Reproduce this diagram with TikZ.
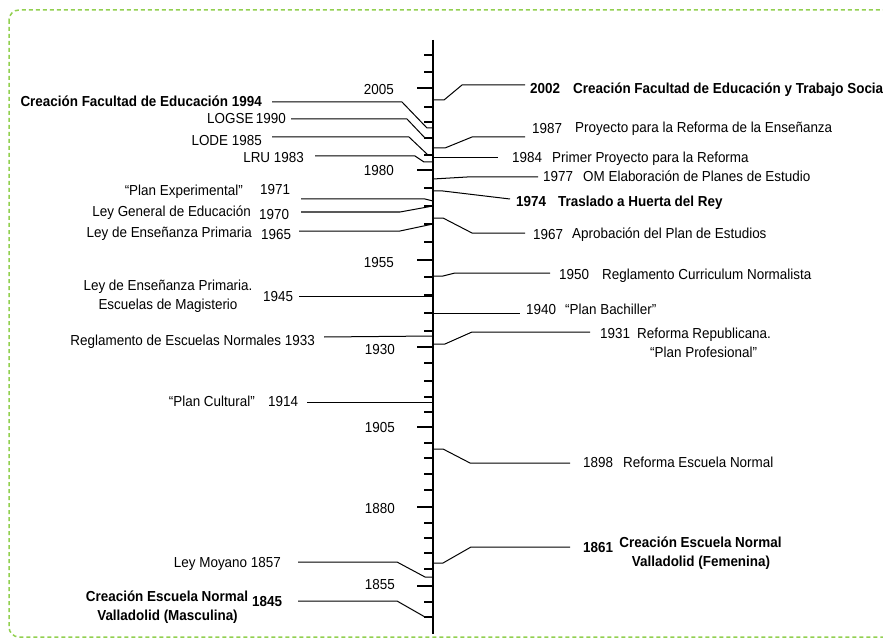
\documentclass[tikz,border=0pt]{standalone}
\usepackage{fontspec}
\setmainfont{Liberation Sans}[FakeStretch=0.927]
\definecolor{frame}{HTML}{92D050}
\tikzset{
  lbl/.style={inner sep=0pt, font=\fontsize{14.5}{19}\selectfont},
  blbl/.style={inner sep=0pt, font=\fontsize{14.5}{19}\selectfont\bfseries},
  conn/.style={line width=1pt, line join=miter},
  axisline/.style={line width=2pt},
  shorttick/.style={line width=2pt},
  longtick/.style={line width=2.4pt},
  framebox/.style={draw=frame, line width=1.5pt, dash pattern=on 4pt off 3pt, rounded corners=10pt}
}
\begin{document}
\begin{tikzpicture}[x=1pt,y=-1pt]
\useasboundingbox (0,0) rectangle (883,639);
\draw[framebox] (9,10) rectangle (900,637);

% axis
\coordinate (atop) at (433,40);
\coordinate (abot) at (433,634);
\draw[axisline] (atop) -- (abot);
\foreach \y in {55,72,107,122,138,155,188,206,224,242,277,295,313,331,363,381,397,412,443,458,474,490,523,538,553,569,602,617}
  \draw[shorttick] (424,\y) -- (433,\y);
\foreach \y in {88,170,260,347,427,507,586}
  \draw[longtick] (417,\y) -- (433,\y);

% axis labels
\node[lbl, anchor=base east] (y2005) at (394,95) {2005};
\node[lbl, anchor=base east] (y1980) at (394,176) {1980};
\node[lbl, anchor=base east] (y1955) at (394,267) {1955};
\node[lbl, anchor=base east] (y1930) at (395,354) {1930};
\node[lbl, anchor=base east] (y1905) at (395,432) {1905};
\node[lbl, anchor=base east] (y1880) at (395,513) {1880};
\node[lbl, anchor=base east] (y1855) at (395,589) {1855};

% ---------- left side ----------
\node[blbl, anchor=base east] (t1994) at (262,107) {Creación Facultad de Educación 1994};
\coordinate (s1994) at (272,102); \coordinate (e1994) at (433,128);
\draw[conn] (s1994) -- (402,102) -- (427,128) -- (e1994);

\node[lbl, anchor=base east] (t1990) at (286,124) {LOGSE\,1990};
\coordinate (s1990) at (291,119); \coordinate (e1990) at (433,138);
\draw[conn] (s1990) -- (407,119) -- (425,138) -- (e1990);

\node[lbl, anchor=base east] (t1985) at (262,146) {LODE 1985};
\coordinate (s1985) at (272,137); \coordinate (e1985) at (433,155);
\draw[conn] (s1985) -- (409,137) -- (428,155) -- (e1985);

\node[lbl, anchor=base east] (t1983) at (304,163) {LRU 1983};
\coordinate (s1983) at (315,156); \coordinate (e1983) at (433,162);
\draw[conn] (s1983) -- (415,156) -- (424,162) -- (e1983);

\node[lbl, anchor=base east] (t1971) at (243,196) {“Plan Experimental”};
\node[lbl, anchor=base west] (n1971) at (260,194) {1971};
\coordinate (s1971) at (301,199); \coordinate (e1971) at (433,201);
\draw[conn] (s1971) -- (425,199) -- (e1971);

\node[lbl, anchor=base east] (t1970) at (251,217) {Ley General de Educación};
\node[lbl, anchor=base west] (n1970) at (259,219) {1970};
\coordinate (s1970) at (301,212); \coordinate (e1970) at (433,206);
\draw[conn] (s1970) -- (400,212) -- (e1970);

\node[lbl, anchor=base east] (t1965) at (252,237) {Ley de Enseñanza Primaria};
\node[lbl, anchor=base west] (n1965) at (261,239) {1965};
\coordinate (s1965) at (299,231); \coordinate (e1965) at (433,224);
\draw[conn] (s1965) -- (400,231) -- (e1965);

\node[lbl, anchor=base] (t1945a) at (168,290) {Ley de Enseñanza Primaria.};
\node[lbl, anchor=base] (t1945b) at (168,309) {Escuelas de Magisterio};
\node[lbl, anchor=base west] (n1945) at (263,301) {1945};
\coordinate (s1945) at (299,296); \coordinate (e1945) at (433,296);
\draw[conn] (s1945) -- (e1945);

\node[lbl, anchor=base east] (t1933) at (315,345) {Reglamento de Escuelas Normales 1933};
\coordinate (s1933) at (324,337); \coordinate (e1933) at (433,336);
\draw[conn] (s1933) -- (e1933);

\node[lbl, anchor=base east] (t1914) at (255,406) {“Plan Cultural”};
\node[lbl, anchor=base west] (n1914) at (268,406) {1914};
\coordinate (s1914) at (307,402); \coordinate (e1914) at (433,402);
\draw[conn] (s1914) -- (e1914);

\node[lbl, anchor=base east] (t1857) at (281,567) {Ley Moyano 1857};
\coordinate (s1857) at (298,562); \coordinate (e1857) at (433,577);
\draw[conn] (s1857) -- (397,562) -- (425,577) -- (e1857);

\node[blbl, anchor=base] (t1845a) at (167,601) {Creación Escuela Normal};
\node[blbl, anchor=base] (t1845b) at (167.5,620) {Valladolid (Masculina)};
\node[blbl, anchor=base west] (n1845) at (252,606) {1845};
\coordinate (s1845) at (298,601); \coordinate (e1845) at (433,617);
\draw[conn] (s1845) -- (397,601) -- (425,617) -- (e1845);

% ---------- right side ----------
\node[blbl, anchor=base west] (n2002) at (530,94) {2002};
\node[blbl, anchor=base west] (t2002) at (573,94) {Creación Facultad de Educación y Trabajo Social};
\coordinate (a2002) at (433,100); \coordinate (f2002) at (525,85);
\draw[conn] (a2002) -- (444,100) -- (462,85) -- (f2002);

\node[lbl, anchor=base west] (n1987) at (532,134) {1987};
\node[lbl, anchor=base west] (t1987) at (575,133) {Proyecto para la Reforma de la Enseñanza};
\coordinate (a1987) at (433,148); \coordinate (f1987) at (525,137);
\draw[conn] (a1987) -- (445,148) -- (472,137) -- (f1987);

\node[lbl, anchor=base west] (n1984) at (512,163) {1984};
\node[lbl, anchor=base west] (t1984) at (552,163) {Primer Proyecto para la Reforma};
\coordinate (a1984) at (433,158); \coordinate (f1984) at (498,158);
\draw[conn] (a1984) -- (f1984);

\node[lbl, anchor=base west] (n1977) at (543,182) {1977};
\node[lbl, anchor=base west] (t1977) at (583,182) {OM Elaboración de Planes de Estudio};
\coordinate (a1977) at (433,179); \coordinate (f1977) at (538,177);
\draw[conn] (a1977) -- (467,177) -- (f1977);

\node[blbl, anchor=base west] (n1974) at (516,207) {1974};
\node[blbl, anchor=base west] (t1974) at (558,207) {Traslado a Huerta del Rey};
\coordinate (a1974) at (433,191); \coordinate (f1974) at (510,199);
\draw[conn] (a1974) -- (443,191) -- (f1974);

\node[lbl, anchor=base west] (n1967) at (533,239) {1967};
\node[lbl, anchor=base west] (t1967) at (572,238) {Aprobación del Plan de Estudios};
\coordinate (a1967) at (433,218); \coordinate (f1967) at (525,233);
\draw[conn] (a1967) -- (443,218) -- (472,233) -- (f1967);

\node[lbl, anchor=base west] (n1950) at (559,279) {1950};
\node[lbl, anchor=base west] (t1950) at (602,279) {Reglamento Curriculum Normalista};
\coordinate (a1950) at (433,276); \coordinate (f1950) at (550,273);
\draw[conn] (a1950) -- (443,276) -- (455,273) -- (f1950);

\node[lbl, anchor=base west] (n1940) at (526,314) {1940};
\node[lbl, anchor=base west] (t1940) at (565,314) {“Plan Bachiller”};
\coordinate (a1940) at (433,313); \coordinate (f1940) at (520,313);
\draw[conn] (a1940) -- (f1940);

\node[lbl, anchor=base west] (n1931) at (600,338) {1931};
\node[lbl, anchor=base west] (t1931a) at (637,338) {Reforma Republicana.};
\node[lbl, anchor=base west] (t1931b) at (650,357) {“Plan Profesional”};
\coordinate (a1931) at (433,344); \coordinate (f1931) at (590,332);
\draw[conn] (a1931) -- (445,344) -- (472,332) -- (f1931);

\node[lbl, anchor=base west] (n1898) at (583,467) {1898};
\node[lbl, anchor=base west] (t1898) at (623,467) {Reforma Escuela Normal};
\coordinate (a1898) at (433,449); \coordinate (f1898) at (570,463);
\draw[conn] (a1898) -- (443,449) -- (470,463) -- (f1898);

\node[blbl, anchor=base west] (n1861) at (583,552) {1861};
\node[blbl, anchor=base] (t1861a) at (700.5,547) {Creación Escuela Normal};
\node[blbl, anchor=base] (t1861b) at (701,566) {Valladolid (Femenina)};
\coordinate (a1861) at (433,563); \coordinate (f1861) at (570,547);
\draw[conn] (a1861) -- (443,563) -- (471,547) -- (f1861);
\end{tikzpicture}
\end{document}
